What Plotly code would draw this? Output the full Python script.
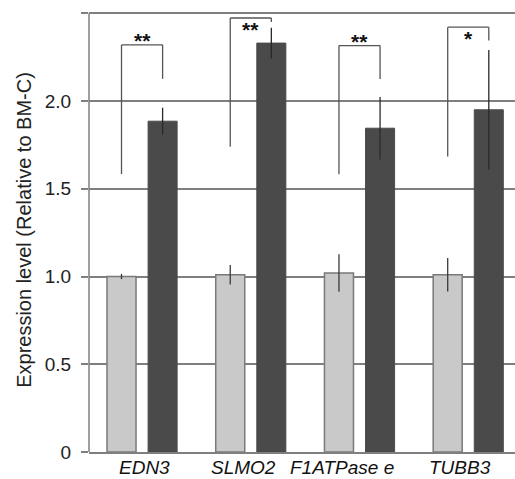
import plotly.graph_objects as go

# ---- data ----
genes = ["EDN3", "SLMO2", "F1ATPase e", "TUBB3"]
control_values = [1.00, 1.01, 1.02, 1.01]
control_errors = [0.015, 0.055, 0.107, 0.095]
treated_values = [1.885, 2.33, 1.845, 1.95]
treated_errors = [0.077, 0.088, 0.178, 0.34]
# significance brackets: left leg bottom, top, right leg bottom
bracket_left_bottom = [1.583, 1.739, 1.583, 1.684]
bracket_top = [2.32, 2.473, 2.316, 2.421]
bracket_right_bottom = [2.126, 2.45, 2.126, 2.345]
significance = ["**", "**", "**", "*"]
y_tickvals = [0, 0.5, 1.0, 1.5, 2.0, 2.5]
y_ticktext = ["0", "0.5", "1.0", "1.5", "2.0", ""]

FONT = "Liberation Sans, Arial, sans-serif"
GRID = "#7f7f7f"
BAR_W = 0.267
HALF_SEP = 0.189
STAR_BELOW = [False, True, False, True]   # star text placed under the bracket line

xs = list(range(len(genes)))

fig = go.Figure()
fig.add_trace(go.Bar(
    x=xs, y=control_values, width=BAR_W, offset=-HALF_SEP - BAR_W / 2,
    marker=dict(color="#c9c9c9", line=dict(color="#7a7a7a", width=1.5)),
    error_y=dict(type="data", array=control_errors, visible=True,
                 color="#3a3a3a", thickness=1.3, width=0),
    showlegend=False,
))
fig.add_trace(go.Bar(
    x=xs, y=treated_values, width=BAR_W, offset=HALF_SEP - BAR_W / 2,
    marker=dict(color="#4a4a4a", line=dict(color="#4a4a4a", width=1)),
    error_y=dict(type="data", array=treated_errors, visible=True,
                 color="#2a2a2a", thickness=1.3, width=0),
    showlegend=False,
))

shapes = []
annotations = []
for i in xs:
    xl = i - HALF_SEP
    xr = i + HALF_SEP
    line = dict(color="#555555", width=1.3)
    shapes.append(dict(type="line", xref="x", yref="y", x0=xl, x1=xl,
                       y0=bracket_left_bottom[i], y1=bracket_top[i], line=line))
    shapes.append(dict(type="line", xref="x", yref="y", x0=xl, x1=xr,
                       y0=bracket_top[i], y1=bracket_top[i], line=line))
    shapes.append(dict(type="line", xref="x", yref="y", x0=xr, x1=xr,
                       y0=bracket_top[i], y1=bracket_right_bottom[i], line=line))
    if STAR_BELOW[i]:
        anchor, shift = "top", 2
    else:
        anchor, shift = "bottom", -9
    annotations.append(dict(x=i, y=bracket_top[i], xref="x", yref="y",
                            text="<b>%s</b>" % significance[i], showarrow=False,
                            xanchor="center", yanchor=anchor, yshift=shift,
                            font=dict(family=FONT, size=21, color="#111111")))

label_shift = [2, -7, -18, -8]
for i in xs:
    annotations.append(dict(x=i, y=0, xref="x", yref="y", text="<i>%s</i>" % genes[i],
                            showarrow=False, xanchor="center", yanchor="top",
                            xshift=label_shift[i], yshift=-3,
                            font=dict(family=FONT, size=19, color="#111111")))

annotations.append(dict(x=-0.153, y=0.5, xref="paper", yref="paper",
                        text="Expression level (Relative to BM-C)", textangle=-90,
                        showarrow=False, xanchor="center", yanchor="middle",
                        font=dict(family=FONT, size=20, color="#222222")))

fig.update_layout(
    width=515, height=479,
    margin=dict(l=89, r=0, t=8, b=27),
    paper_bgcolor="white", plot_bgcolor="white",
    barmode="overlay",
    shapes=shapes, annotations=annotations,
    xaxis=dict(range=[-0.488, 3.43], tickvals=xs, ticktext=["", "", "", ""],
               showgrid=False, zeroline=False, showline=True,
               linecolor=GRID, linewidth=1.5, ticks=""),
    yaxis=dict(range=[0, 2.53], tickvals=y_tickvals, ticktext=y_ticktext,
               showgrid=True, gridcolor=GRID, gridwidth=1.5,
               zeroline=False, showline=False,
               ticks="outside", ticklen=7, tickcolor=GRID, tickwidth=1.5,
               ticklabelstandoff=6,
               tickfont=dict(family=FONT, size=19, color="#222222")),
)
# y axis line from 0 up to the top gridline only
fig.add_shape(type="line", xref="paper", yref="y", x0=0, x1=0,
              y0=y_tickvals[0], y1=y_tickvals[-1],
              line=dict(color=GRID, width=1.5))

fig.write_html("out.html")
